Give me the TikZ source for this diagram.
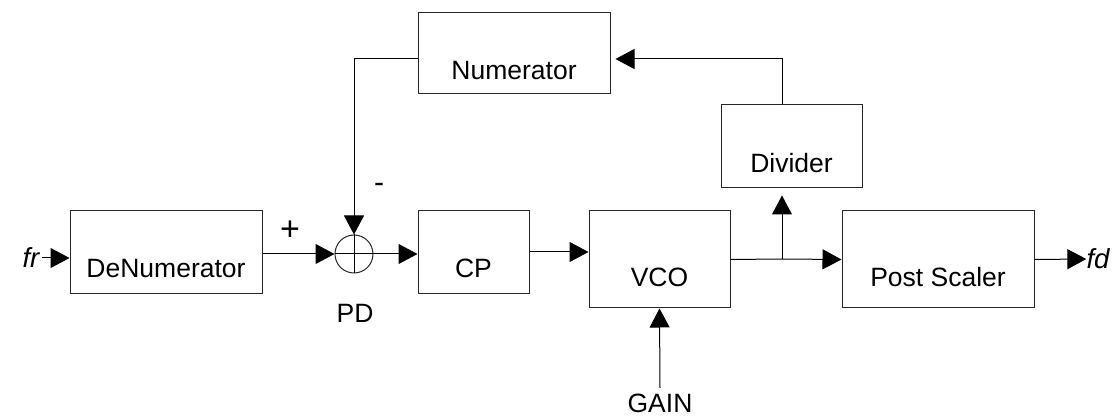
\documentclass[tikz,border=0pt]{standalone}
\usepackage{fontspec}
\setmainfont{Liberation Sans}
\usetikzlibrary{arrows.meta,calc}
\begin{document}
\begin{tikzpicture}[x=1pt,y=-1pt,
  txt/.style={font=\fontsize{26.5}{30}\selectfont, inner sep=0pt, text=black},
  blk/.style={draw=black!85, line width=1pt, rectangle, inner sep=0pt},
  wire/.style={draw=black, line width=1pt},
  arr/.style={wire, -{Triangle[length=19pt,width=20pt]}}
]
\useasboundingbox (0,0) rectangle (1112,419);
% blocks
\node[blk, minimum width=192pt, minimum height=83pt] (denum) at (166,252.5) {};
\node[txt] (denumT) at (166,269) {DeNumerator};
\node[blk, circle, minimum size=38pt] (circ) at (354,254) {};
\node[blk, minimum width=111pt, minimum height=83pt] (cp) at (473.5,252.5) {};
\node[txt] (cpT) at (473.5,268) {CP};
\node[blk, minimum width=141pt, minimum height=97pt] (vco) at (659.5,259.5) {};
\node[txt] (vcoT) at (659.5,277) {VCO};
\node[blk, minimum width=192pt, minimum height=97pt] (ps) at (938,259.5) {};
\node[txt] (psT) at (938,277) {Post Scaler};
\node[blk, minimum width=141pt, minimum height=83pt] (div) at (791.5,146.5) {};
\node[txt] (divT) at (791.5,163) {Divider};
\node[blk, minimum width=192pt, minimum height=81pt] (num) at (514,53.5) {};
\node[txt] (numT) at (514,71) {Numerator};
% cross inside summing circle
\draw[wire] (circ.north) -- (circ.south);
\draw[wire] (circ.west) -- (circ.east);
% labels
\node[txt, font=\fontsize{27.5}{30}\itshape] (fr) at (31,258) {fr};
\node[txt, font=\fontsize{27.5}{30}\itshape] (fd) at (1098,259) {fd};
\node[txt, font=\fontsize{34}{38}\selectfont] (plus) at (290,231) {+};
\node[txt, font=\fontsize{30}{34}\selectfont] (minus) at (379,188) {-};
\node[txt] (pd) at (355,313) {PD};
\node[txt] (gain) at (660,403) {GAIN};
\coordinate (gainTop) at (660,388);
\coordinate (j) at (782,259);
\coordinate (topR) at (782,59);
\coordinate (topL) at (354,59);
% connectors
\draw[arr] ($(fr.east)+(2,0)$) -- (fr.east -| denum.west);
\draw[arr] (denum.east |- circ) -- (circ.west);
\draw[arr] (circ.east) -- (circ.east -| cp.west);
\draw[arr] ($(cp.east)+(0,-0.5)$) -- ($(cp.east -| vco.west)+(0,-0.5)$);
\draw[wire] (vco.east) -- (j);
\draw[arr] (j) -- (ps.west);
\draw[arr, shorten >=7pt] (j) -- (j |- div.south);
\draw[arr, shorten >=5pt] (j |- div.north) -- (topR) -- (topR -| num.east);
\draw[arr] (num.west |- topL) -- (topL) -- (circ.north);
\draw[arr] (ps.east) -- (fd.west);
\draw[arr] (gainTop) -- (vco.south);
\end{tikzpicture}
\end{document}
